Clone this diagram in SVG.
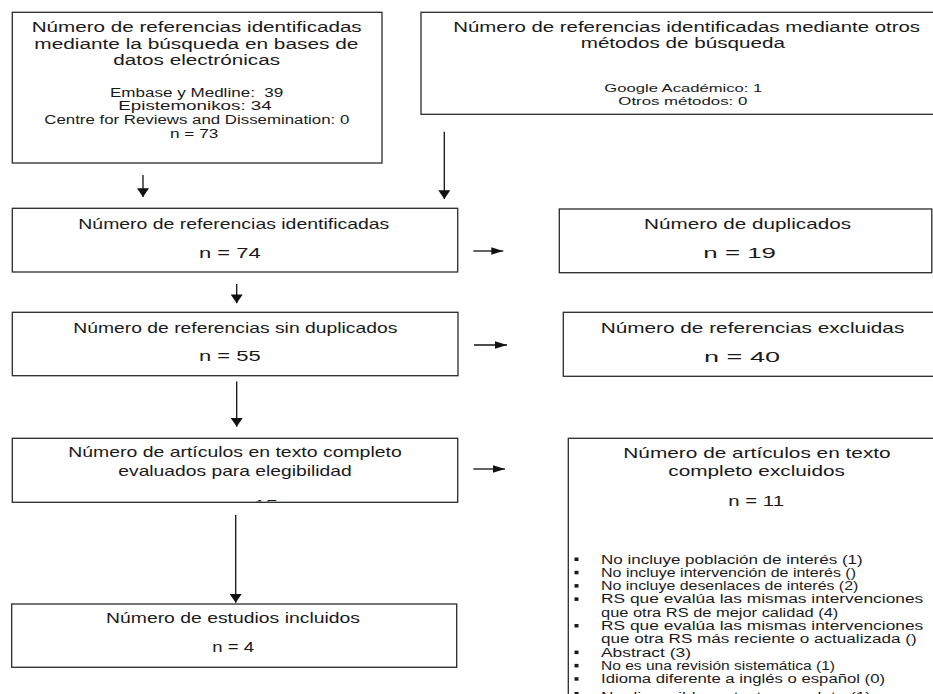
<svg xmlns="http://www.w3.org/2000/svg" width="933" height="694" viewBox="0 0 933 694">
<style>
.box{fill:#fff;stroke:#2a2a2a;stroke-width:1.3}
text{font-family:"Liberation Sans",Arial,sans-serif;fill:#1a1a1a}
.t16{font-size:15.5px}
.t15{font-size:15px}
.t11{font-size:12.5px}
.t10{font-size:11.5px}
.t12{font-size:12.5px}
.con{stroke:#111;stroke-width:1.3;fill:none}
.bul{fill:#1a1a1a}
</style>
<defs>
<marker id="hv" markerUnits="userSpaceOnUse" markerWidth="11" markerHeight="12" refX="8" refY="5.5" orient="auto" viewBox="0 0 8 11"><path d="M0,0 L8,5.5 L0,11 z" fill="#111"/></marker>
<marker id="hh" markerUnits="userSpaceOnUse" markerWidth="12" markerHeight="8" refX="11" refY="3.5" orient="auto" viewBox="0 0 11 7"><path d="M0,0 L11,3.5 L0,7 z" fill="#111"/></marker>
<clipPath id="c7"><rect x="12" y="438" width="446" height="63.5"/></clipPath>
</defs>
<rect width="933" height="694" fill="#fff"/>

<g id="n1">
<rect class="box" x="12.3" y="12.3" width="369.7" height="150.7"/>
<text class="t16" x="31.7" y="32" textLength="330" lengthAdjust="spacingAndGlyphs">Número de referencias identificadas</text>
<text class="t16" x="34.3" y="48.5" textLength="324" lengthAdjust="spacingAndGlyphs">mediante la búsqueda en bases de</text>
<text class="t16" x="113.3" y="65" textLength="166.7" lengthAdjust="spacingAndGlyphs">datos electrónicas</text>
<text class="t11" x="110" y="96.7" textLength="173.3" lengthAdjust="spacingAndGlyphs">Embase y Medline:&#160; 39</text>
<text class="t11" x="118.3" y="110" textLength="153.4" lengthAdjust="spacingAndGlyphs">Epistemonikos: 34</text>
<text class="t11" x="44.3" y="124" textLength="305" lengthAdjust="spacingAndGlyphs">Centre for Reviews and Dissemination: 0</text>
<text class="t11" x="170" y="137.5" textLength="48.3" lengthAdjust="spacingAndGlyphs">n = 73</text>
</g>

<g id="n2">
<rect class="box" x="421" y="12.3" width="540" height="102"/>
<text class="t16" x="453.3" y="32" textLength="466.7" lengthAdjust="spacingAndGlyphs">Número de referencias identificadas mediante otros</text>
<text class="t16" x="580.7" y="47.5" textLength="204.3" lengthAdjust="spacingAndGlyphs">métodos de búsqueda</text>
<text class="t10" x="604.3" y="92.3" textLength="158" lengthAdjust="spacingAndGlyphs">Google Académico: 1</text>
<text class="t10" x="618.3" y="104.5" textLength="129" lengthAdjust="spacingAndGlyphs">Otros métodos: 0</text>
</g>

<g id="n3">
<rect class="box" x="12.3" y="208.3" width="445.4" height="63.7"/>
<text class="t15" x="78.3" y="229.3" textLength="311" lengthAdjust="spacingAndGlyphs">Número de referencias identificadas</text>
<text class="t15" x="199" y="257.7" textLength="61.7" lengthAdjust="spacingAndGlyphs">n = 74</text>
</g>

<g id="n4">
<rect class="box" x="559.3" y="209" width="372.5" height="63.7"/>
<text class="t15" x="644" y="229.3" textLength="207" lengthAdjust="spacingAndGlyphs">Número de duplicados</text>
<text class="t15" x="703.3" y="258.3" textLength="72.7" lengthAdjust="spacingAndGlyphs">n = 19</text>
</g>

<g id="n5">
<rect class="box" x="12.3" y="312.3" width="445.7" height="63.4"/>
<text class="t15" x="73.3" y="333.3" textLength="324" lengthAdjust="spacingAndGlyphs">Número de referencias sin duplicados</text>
<text class="t15" x="199" y="360.7" textLength="61.7" lengthAdjust="spacingAndGlyphs">n = 55</text>
</g>

<g id="n6">
<rect class="box" x="563.3" y="312.3" width="400" height="64"/>
<text class="t15" x="600.7" y="333.3" textLength="303.6" lengthAdjust="spacingAndGlyphs">Número de referencias excluidas</text>
<text class="t15" x="704" y="361.7" textLength="76" lengthAdjust="spacingAndGlyphs">n = 40</text>
</g>

<g id="n7">
<rect class="box" x="12.3" y="438.3" width="445.4" height="64"/>
<text class="t15" x="68.3" y="457.3" textLength="333.4" lengthAdjust="spacingAndGlyphs">Número de artículos en texto completo</text>
<text class="t15" x="118.3" y="475.7" textLength="233.4" lengthAdjust="spacingAndGlyphs">evaluados para elegibilidad</text>
<text class="t15" x="216" y="510" textLength="62" lengthAdjust="spacingAndGlyphs" clip-path="url(#c7)">n = 15</text>
</g>

<g id="n8">
<rect class="box" x="11.7" y="604" width="445" height="63.3"/>
<text class="t15" x="106" y="623.3" textLength="254" lengthAdjust="spacingAndGlyphs">Número de estudios incluidos</text>
<text class="t15" x="212.3" y="652.3" textLength="41.7" lengthAdjust="spacingAndGlyphs">n = 4</text>
</g>

<g id="n9">
<rect class="box" x="568.3" y="438.3" width="400" height="290"/>
<text class="t15" x="623.3" y="458.3" textLength="267.4" lengthAdjust="spacingAndGlyphs">Número de artículos en texto</text>
<text class="t15" x="668.3" y="475.7" textLength="176.7" lengthAdjust="spacingAndGlyphs">completo excluidos</text>
<text class="t15" x="728.3" y="505.7" textLength="55.7" lengthAdjust="spacingAndGlyphs">n = 11</text>
<g class="bul">
<rect x="574.5" y="557.5" width="4" height="3.5"/>
<rect x="574.5" y="570.8" width="4" height="3.5"/>
<rect x="574.5" y="584.1" width="4" height="3.5"/>
<rect x="574.5" y="597.4" width="4" height="3.5"/>
<rect x="574.5" y="624" width="4" height="3.5"/>
<rect x="574.5" y="650.6" width="4" height="3.5"/>
<rect x="574.5" y="663.9" width="4" height="3.5"/>
<rect x="574.5" y="677.2" width="4" height="3.5"/>
<rect x="574.5" y="692" width="4" height="3.5"/>
</g>
<text class="t12" x="601" y="563.5" textLength="261.7" lengthAdjust="spacingAndGlyphs">No incluye población de interés (1)</text>
<text class="t12" x="601" y="576.8" textLength="255" lengthAdjust="spacingAndGlyphs">No incluye intervención de interés ()</text>
<text class="t12" x="601" y="590.1" textLength="257.3" lengthAdjust="spacingAndGlyphs">No incluye desenlaces de interés (2)</text>
<text class="t12" x="601" y="603.4" textLength="322.3" lengthAdjust="spacingAndGlyphs">RS que evalúa las mismas intervenciones</text>
<text class="t12" x="601" y="616.7" textLength="237.3" lengthAdjust="spacingAndGlyphs">que otra RS de mejor calidad (4)</text>
<text class="t12" x="601" y="630" textLength="322.3" lengthAdjust="spacingAndGlyphs">RS que evalúa las mismas intervenciones</text>
<text class="t12" x="601" y="643.3" textLength="315.7" lengthAdjust="spacingAndGlyphs">que otra RS más reciente o actualizada ()</text>
<text class="t12" x="601" y="656.6" textLength="90" lengthAdjust="spacingAndGlyphs">Abstract (3)</text>
<text class="t12" x="601" y="669.9" textLength="234" lengthAdjust="spacingAndGlyphs">No es una revisión sistemática (1)</text>
<text class="t12" x="601" y="683.2" textLength="284" lengthAdjust="spacingAndGlyphs">Idioma diferente a inglés o español (0)</text>
<text class="t12" x="601" y="700.5" textLength="270" lengthAdjust="spacingAndGlyphs">No disponible en texto completo (1)</text>
</g>

<g id="connectors">
<line class="con" x1="143" y1="175" x2="143" y2="197" marker-end="url(#hv)"/>
<line class="con" x1="444.3" y1="131.7" x2="444.3" y2="199" marker-end="url(#hv)"/>
<line class="con" x1="473.3" y1="251" x2="503.3" y2="251" marker-end="url(#hh)"/>
<line class="con" x1="236.7" y1="284" x2="236.7" y2="303.3" marker-end="url(#hv)"/>
<line class="con" x1="474" y1="345" x2="507" y2="345" marker-end="url(#hh)"/>
<line class="con" x1="236.7" y1="381.5" x2="236.7" y2="426.7" marker-end="url(#hv)"/>
<line class="con" x1="473.3" y1="469" x2="505" y2="469" marker-end="url(#hh)"/>
<line class="con" x1="235.7" y1="515" x2="235.7" y2="602.7" marker-end="url(#hv)"/>
</g>
</svg>
